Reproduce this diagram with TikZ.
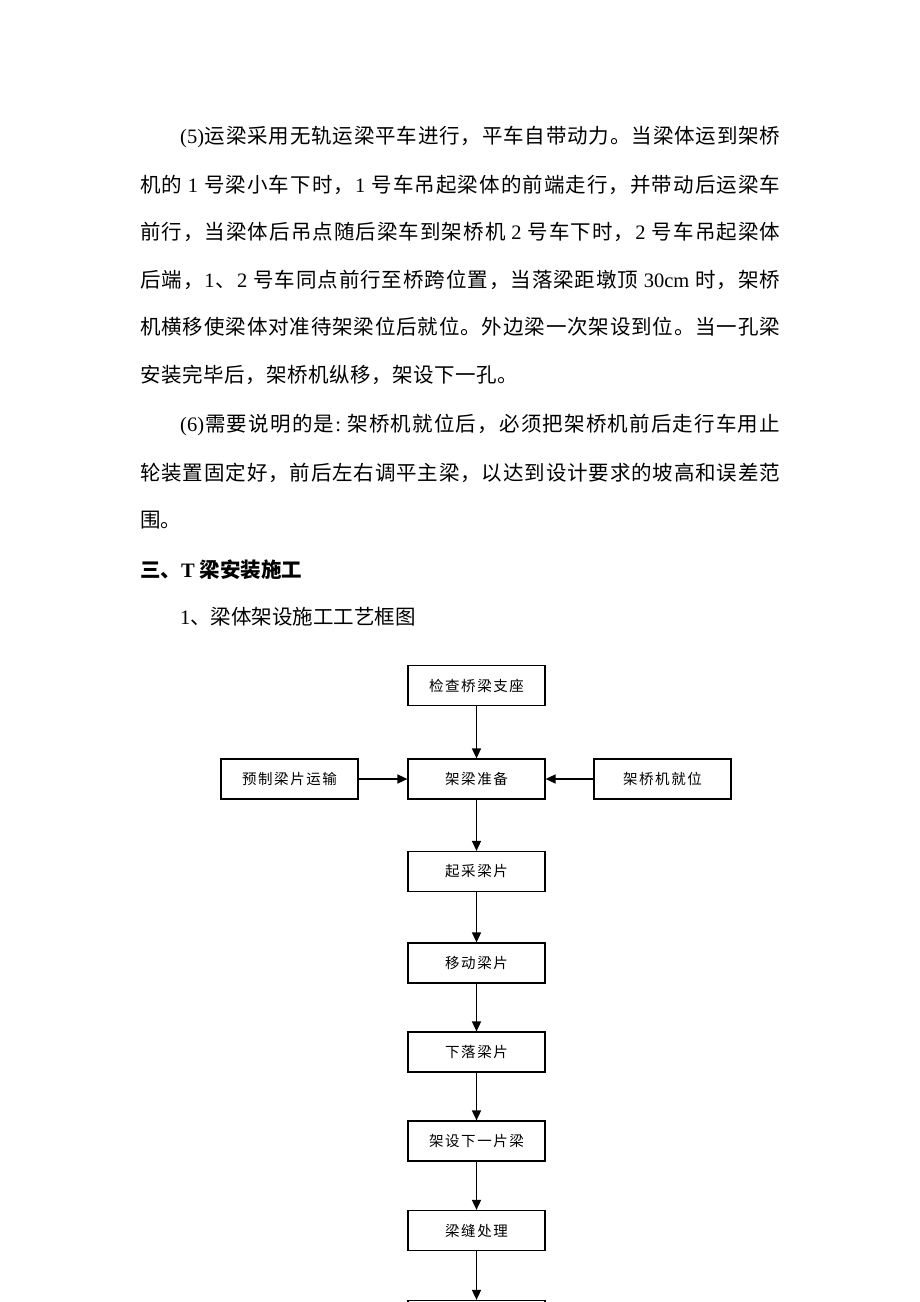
\documentclass[tikz,border=0pt]{standalone}
\usepackage{fontspec}
\setmainfont{Noto Sans CJK SC}
\newfontfamily\lat{Liberation Serif}
\usetikzlibrary{arrows.meta}
\def\stopmark{\endsp}
\def\spglue{\hskip0pt plus 1fil}
\def\spx#1{\def\tmp{#1}\ifx\tmp\stopmark\unskip\else\mbox{#1}\spglue\expandafter\spx\fi}
\newcommand\jl[2]{\makebox[#1][s]{\spx#2\endsp}}
\newcommand\bt[1]{{\def\spglue{\hskip1.6pt}\spx#1\endsp}}
\tikzset{
  txt/.style={anchor=west, inner sep=0pt, font=\fontsize{20.5}{24}\selectfont},
  box/.style={draw, line width=1.2pt, minimum width=137pt, minimum height=40pt, inner sep=0pt, font=\fontsize{14.5}{16}\selectfont},
  arr/.style={line width=1.5pt, -{Triangle[length=10pt,width=9pt]}}
}
\begin{document}
\begin{tikzpicture}[x=1pt,y=-1pt]
\useasboundingbox (0,0) rectangle (920,1302);
\clip (0,0) rectangle (920,1302);
% paragraph (5)
\node[txt] (l1) at (180,137) {\jl{600pt}{{\lat (5)}运梁采用无轨运梁平车进行，平车自带动力。当梁体运到架桥}};
\node[txt] (l2) at (140,185) {\jl{640pt}{机的{ \lat 1 }号梁小车下时，{\lat 1 }号车吊起梁体的前端走行，并带动后运梁车}};
\node[txt] (l3) at (140,232) {\jl{640pt}{前行，当梁体后吊点随后梁车到架桥机{ \lat 2 }号车下时，{\lat 2 }号车吊起梁体}};
\node[txt] (l4) at (140,280) {\jl{640pt}{后端，{\lat 1}、{\lat 2 }号车同点前行至桥跨位置，当落梁距墩顶{ \lat 30cm }时，架桥}};
\node[txt] (l5) at (140,327) {\jl{640pt}{机横移使梁体对准待架梁位后就位。外边梁一次架设到位。当一孔梁}};
\node[txt] (l6) at (140,375) {\jl{378pt}{安装完毕后，架桥机纵移，架设下一孔。}};
% paragraph (6)
\node[txt] (l7) at (180,425) {\jl{600pt}{{\lat (6)}需要说明的是{\lat :\ }架桥机就位后，必须把架桥机前后走行车用止}};
\node[txt] (l8) at (140,473) {\jl{640pt}{轮装置固定好，前后左右调平主梁，以达到设计要求的坡高和误差范}};
\node[txt] (l9) at (140,520) {围。};
% headings
\node[txt] (h1) at (140,570) {\bfseries 三、{\lat\bfseries T }梁安装施工};
\node[txt] (h2) at (180,617) {{\lat 1}、梁体架设施工工艺框图};
% flowchart
\node[box] (b1) at (476.5,685.5) {\bt{检查桥梁支座}};
\node[box] (b2) at (476.5,779) {\bt{架梁准备}};
\node[box] (bl) at (289.5,779) {\bt{预制梁片运输}};
\node[box] (br) at (662.5,779) {\bt{架桥机就位}};
\node[box] (b3) at (476.5,871.5) {\bt{起采梁片}};
\node[box] (b4) at (476.5,963) {\bt{移动梁片}};
\node[box] (b5) at (476.5,1052) {\bt{下落梁片}};
\node[box] (b6) at (476.5,1141) {\bt{架设下一片梁}};
\node[box] (b7) at (476.5,1230.5) {\bt{梁缝处理}};
\node[box] (b8) at (476.5,1320.5) {};
\draw[arr] (b1) -- (b2);
\draw[arr] (bl) -- (b2);
\draw[arr] (br) -- (b2);
\draw[arr] (b2) -- (b3);
\draw[arr] (b3) -- (b4);
\draw[arr] (b4) -- (b5);
\draw[arr] (b5) -- (b6);
\draw[arr] (b6) -- (b7);
\draw[arr] (b7) -- (b8);
\end{tikzpicture}
\end{document}
